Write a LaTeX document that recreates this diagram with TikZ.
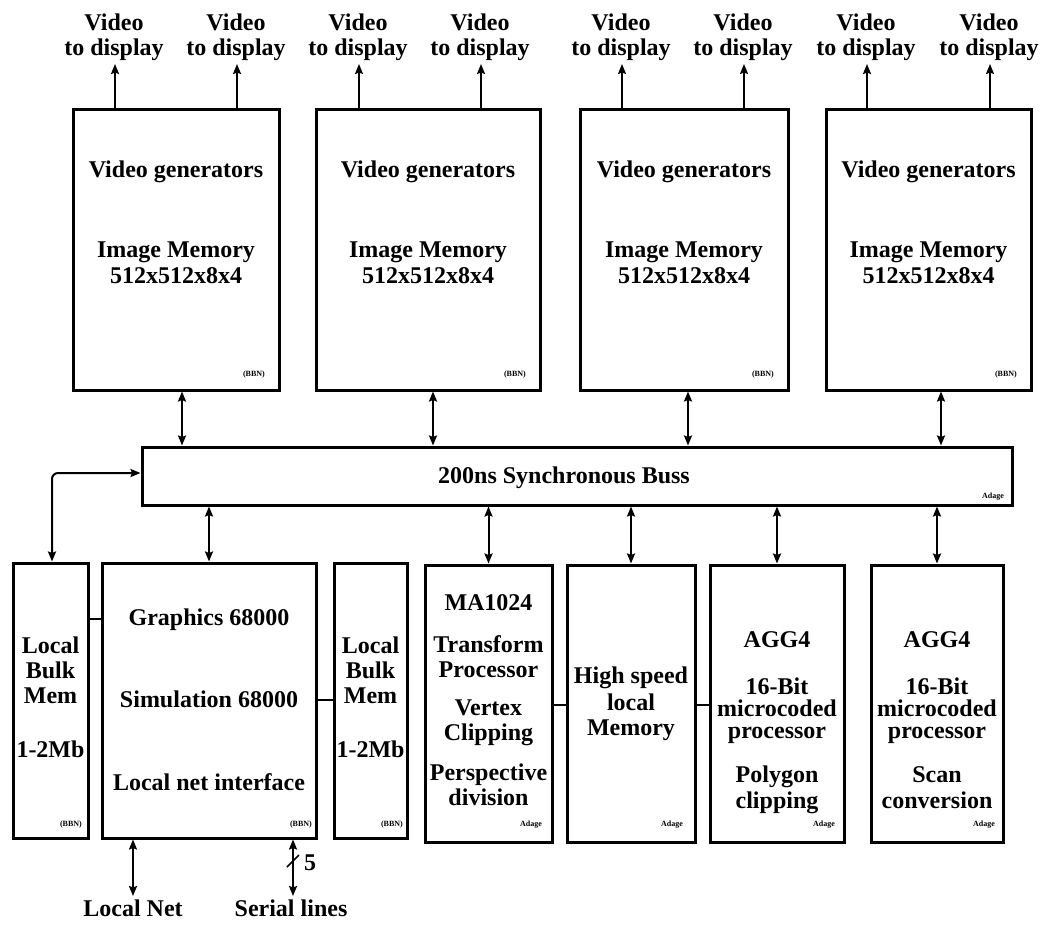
\documentclass[tikz,border=0pt]{standalone}
\usepackage{fontspec}
\setmainfont{Liberation Serif}
\usetikzlibrary{arrows.meta}
\begin{document}
\begin{tikzpicture}[x=1pt,y=-1pt,
  box/.style={draw, line width=3pt, inner sep=0pt},
  lbl/.style={font=\bfseries\fontsize{24}{26}\selectfont, inner sep=0pt, anchor=base},
  tag/.style={font=\bfseries\fontsize{8}{9}\selectfont, inner sep=0pt, anchor=base east},
  biarr/.style={line width=2pt, arrows={Stealth[length=10pt,width=8pt,inset=1.5pt]-Stealth[length=10pt,width=8pt,inset=1.5pt]}},
  uparr/.style={line width=2pt, arrows={-Stealth[length=10pt,width=8pt,inset=1.5pt]}},
  joint/.style={line width=2.4pt}]
\fill[white] (0,0) rectangle (1059,925);
\useasboundingbox (0,0) rectangle (1059,925);

% ---- boxes
\node[box, minimum width=206pt, minimum height=280pt] (T1) at (176,250) {};
\node[box, minimum width=224pt, minimum height=280pt] (T2) at (428,250) {};
\node[box, minimum width=208pt, minimum height=280pt] (T3) at (684,250) {};
\node[box, minimum width=205pt, minimum height=280pt] (T4) at (928.5,250) {};
\node[box, minimum width=870pt, minimum height=58pt] (bus) at (577,476) {};
\node[box, minimum width=75pt, minimum height=275pt] (LB1) at (50.5,700.5) {};
\node[box, minimum width=214pt, minimum height=275pt] (G) at (209,700.5) {};
\node[box, minimum width=73pt, minimum height=275pt] (LB2) at (370.5,700.5) {};
\node[box, minimum width=127pt, minimum height=277pt] (MA) at (488.5,703.5) {};
\node[box, minimum width=128pt, minimum height=277pt] (HS) at (631,703.5) {};
\node[box, minimum width=134pt, minimum height=277pt] (A1) at (777,703.5) {};
\node[box, minimum width=132pt, minimum height=277pt] (A2) at (937,703.5) {};

% ---- video outputs
\foreach \x/\b [count=\i] in {115/T1,237/T1,359/T2,481/T2,622/T3,744/T3,867/T4,990/T4} {
  \node[lbl] (vid\i) at (\x-1,31) {Video};
  \node[lbl] (tod\i) at (\x-1,56) {to display};
  \coordinate (vt\i) at (\x,64);
  \draw[uparr] (vt\i |- \b.north) -- (vt\i);
}

% ---- top box texts
\foreach \b in {T1,T2,T3,T4} {
  \node[lbl] (\b-vg) at (\b.center |- 0,178) {Video generators};
  \node[lbl] (\b-im) at (\b.center |- 0,257) {Image Memory};
  \node[lbl] (\b-sz) at (\b.center |- 0,283) {512x512x8x4};
}
\foreach \x [count=\i] in {265,526,774,1017} {
  \node[tag] (bbnt\i) at (\x,376) {(BBN)};
}

% ---- bus
\node[lbl] (bustxt) at (564,483) {200ns Synchronous Buss};
\node[tag] (busad) at (1004,498) {Adage};

\foreach \x/\b in {182/T1,433/T2,688/T3,941/T4} {
  \coordinate (bx\b) at (\x,0);
  \draw[biarr] (\b.south -| bx\b) -- (bus.north -| bx\b);
}
\foreach \b in {G,MA,HS,A1,A2} {
  \draw[biarr] (bus.south -| \b.north) -- (\b.north);
}
\coordinate (ly) at (0,473);
\coordinate (lx) at (52,0);
\draw[biarr, rounded corners=6pt] (bus.west |- ly) -| (LB1.north -| lx);

% ---- bottom texts
\foreach \x/\y/\t [count=\i] in {
  50.5/653/Local, 50.5/678/Bulk, 50.5/703/Mem, 50.5/757/1-2Mb,
  209/625/Graphics 68000, 209/707/Simulation 68000, 209/790/Local net interface,
  370.5/653/Local, 370.5/678/Bulk, 370.5/703/Mem, 370.5/757/1-2Mb,
  488.5/610/MA1024, 488.5/652/Transform, 488.5/677/Processor, 488.5/715/Vertex,
  488.5/740/Clipping, 488.5/780/Perspective, 488.5/805/division,
  631/683/High speed, 631/710/local, 631/735/Memory,
  777/647/AGG4, 777/694/16-Bit, 777/716/microcoded, 777/738/processor,
  777/782/Polygon, 777/808/clipping,
  937/647/AGG4, 937/694/16-Bit, 937/716/microcoded, 937/738/processor,
  937/782/Scan, 937/808/conversion} {
  \node[lbl] (bt\i) at (\x,\y) {\t};
}
\foreach \x/\t [count=\i] in {82/(BBN),312/(BBN),403/(BBN),542/Adage,683/Adage,835/Adage,995/Adage} {
  \node[tag] (bb\i) at (\x,826) {\t};
}

% ---- joints
\coordinate (j1) at (0,619);
\coordinate (j2) at (0,700);
\coordinate (j3) at (0,705);
\draw[joint] (LB1.east |- j1) -- (G.west |- j1);
\draw[joint] (G.east |- j2) -- (LB2.west |- j2);
\draw[joint] (MA.east |- j3) -- (HS.west |- j3);
\draw[joint] (HS.east |- j3) -- (A1.west |- j3);

% ---- local net and serial lines
\coordinate (ln) at (133,896);
\coordinate (sl) at (293,896);
\draw[biarr] (G.south -| ln) -- (ln);
\draw[biarr] (G.south -| sl) -- (sl);
\coordinate (s1) at (287,867);
\coordinate (s2) at (299,855);
\draw[line width=1.6pt] (s1) -- (s2);
\node[lbl, anchor=base west] (five) at (304,870) {5};
\node[lbl] (lnl) at (133,916) {Local Net};
\node[lbl] (sll) at (291,916) {Serial lines};
\end{tikzpicture}
\end{document}
